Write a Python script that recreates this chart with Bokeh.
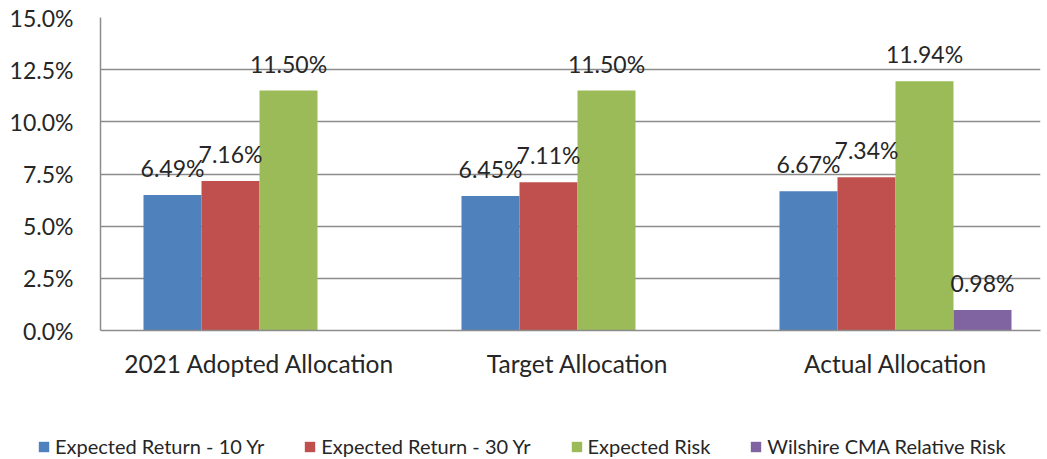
import math
from bokeh.plotting import figure
from bokeh.layouts import column
from bokeh.models import (ColumnDataSource, Range1d, FixedTicker, NumeralTickFormatter,
                          LabelSet, Legend, LegendItem)
from bokeh.core.properties import value
from bokeh.transform import dodge
from bokeh.embed import file_html
from bokeh.resources import INLINE

# ---- data ----
categories = ["2021 Adopted Allocation", "Target Allocation", "Actual Allocation"]
series_names = ["Expected Return - 10 Yr", "Expected Return - 30 Yr",
                "Expected Risk", "Wilshire CMA Relative Risk"]
return_10yr = [0.0649, 0.0645, 0.0667]
return_30yr = [0.0716, 0.0711, 0.0734]
expected_risk = [0.1150, 0.1150, 0.1194]
wilshire_relative_risk = [float("nan"), float("nan"), 0.0098]
y_ticks = [0.0, 0.025, 0.05, 0.075, 0.10, 0.125, 0.15]
colors = ["#4F81BD", "#C0504D", "#9BBB59", "#8064A2"]

series_values = [return_10yr, return_30yr, expected_risk, wilshire_relative_risk]

FONT = "Lato"
TEXT = "#262626"
GRID = "#8c8c8c"
W = 1045

bar_w = 0.1824
offsets = [-1.5 * bar_w, -0.5 * bar_w, 0.5 * bar_w, 1.5 * bar_w]

p = figure(width=W, height=420,
           x_range=Range1d(-0.5, 2.456), y_range=Range1d(0, 0.15),
           output_backend="svg", toolbar_location=None,
           min_border_left=100, min_border_top=17, min_border_right=5,
           min_border_bottom=90)
p.outline_line_color = None
p.frame_align = False

for name, vals, col, off in zip(series_names, series_values, colors, offsets):
    idx = [i for i, v in enumerate(vals) if not math.isnan(v)]
    src = ColumnDataSource(dict(
        x=[float(i) for i in idx],
        top=[vals[i] for i in idx],
        lbl=["{:.2f}%".format(vals[i] * 100) for i in idx],
    ))
    p.vbar(x=dodge("x", off), top="top", bottom=0, width=bar_w, source=src,
           fill_color=col, line_color=None)
    labels = LabelSet(x=dodge("x", off), y="top", text="lbl", source=src,
                      y_offset=27, text_align="center", text_baseline="middle",
                      text_font=value(FONT), text_font_size="23px", text_color=TEXT)
    p.add_layout(labels)

# axes
p.xaxis.ticker = FixedTicker(ticks=[0, 1, 2])
p.xaxis.major_label_overrides = {i: c for i, c in enumerate(categories)}
p.xaxis.major_label_text_font = FONT
p.xaxis.major_label_text_font_size = "24.5px"
p.xaxis.major_label_text_color = TEXT
p.xaxis.major_label_standoff = 18
p.xaxis.axis_line_color = GRID
p.xaxis.axis_line_width = 1.5

p.yaxis.ticker = FixedTicker(ticks=y_ticks)
p.yaxis.formatter = NumeralTickFormatter(format="0.0%")
p.yaxis.major_label_text_font = FONT
p.yaxis.major_label_text_font_size = "23px"
p.yaxis.major_label_text_color = TEXT
p.yaxis.major_label_standoff = 27
p.yaxis.axis_line_color = GRID
p.yaxis.axis_line_width = 1.5

for ax in (p.xaxis, p.yaxis):
    ax.major_tick_line_color = None
    ax.minor_tick_line_color = None
    ax.major_tick_out = 0
    ax.major_tick_in = 0
    ax.minor_tick_out = 0

p.xgrid.grid_line_color = None
p.ygrid.ticker = FixedTicker(ticks=y_ticks)
p.ygrid.grid_line_color = GRID
p.ygrid.grid_line_width = 1.5

# ---- legend strip ----
lg = figure(width=W, height=38, x_range=Range1d(0, 1), y_range=Range1d(0, 1),
            output_backend="svg", toolbar_location=None,
            min_border=0, min_border_left=0, min_border_right=0,
            min_border_top=0, min_border_bottom=0)
lg.frame_align = False
lg.axis.visible = False
lg.grid.visible = False
lg.outline_line_color = None
items = []
for name, col in zip(series_names, colors):
    # zero-height proxy glyph, only used for the legend swatch
    r = lg.vbar(x=[0], top=[0], bottom=[0], width=0.0, fill_color=col, line_color=None)
    items.append(LegendItem(label=name, renderers=[r]))
legend = Legend(items=items, orientation="horizontal", location=(37, 0),
                glyph_width=13, glyph_height=13, label_standoff=5, spacing=39,
                padding=0, margin=0, border_line_color=None, background_fill_alpha=0,
                label_text_font=FONT, label_text_font_size="20px", label_text_color=TEXT)
lg.add_layout(legend)

layout = column(p, lg, spacing=0)
open("out.html", "w").write(file_html(layout, INLINE))
